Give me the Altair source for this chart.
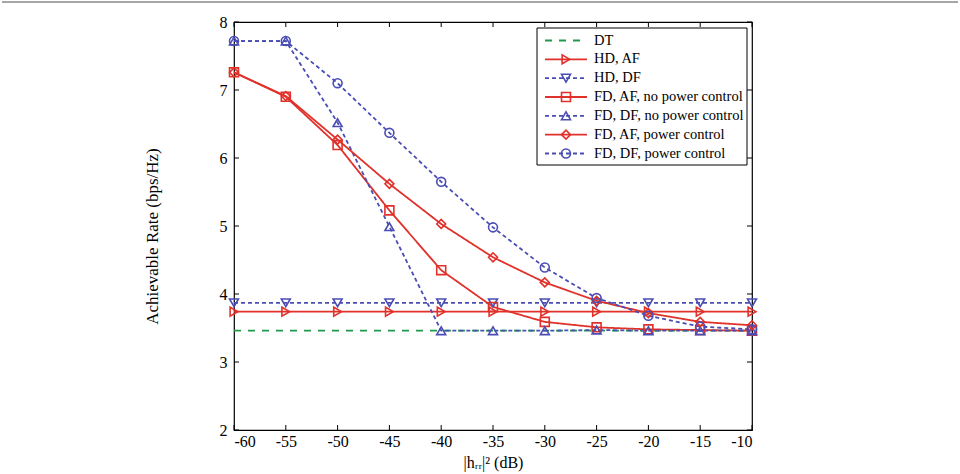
import altair as alt
import pandas as pd

# ---------------- data ----------------
x_db = [-60, -55, -50, -45, -40, -35, -30, -25, -20, -15, -10]

dt = [3.46] * 11
hd_af = [3.74] * 11
hd_df = [3.87] * 11
fd_af_npc = [7.26, 6.90, 6.19, 5.23, 4.35, 3.81, 3.59, 3.51, 3.48, 3.47, 3.46]
fd_df_npc = [7.72, 7.72, 6.52, 4.99, 3.46, 3.46, 3.46, 3.47, 3.46, 3.46, 3.46]
fd_af_pc = [7.26, 6.91, 6.27, 5.62, 5.03, 4.54, 4.17, 3.90, 3.72, 3.59, 3.54]
fd_df_pc = [7.72, 7.72, 7.10, 6.37, 5.65, 4.98, 4.39, 3.94, 3.68, 3.52, 3.48]

names = ["DT", "HD, AF", "HD, DF", "FD, AF, no power control",
         "FD, DF, no power control", "FD, AF, power control", "FD, DF, power control"]
series = [dt, hd_af, hd_df, fd_af_npc, fd_df_npc, fd_af_pc, fd_df_pc]

colors = ["#1e9a4a", "#e0312a", "#4a4db3", "#e0312a", "#4a4db3", "#e0312a", "#4a4db3"]
dashes = [[7, 7], [1, 0], [4, 3], [1, 0], [4, 3], [1, 0], [4, 3]]
marker_names = names[1:]
shapes = ["triangle-right", "triangle-down", "square", "triangle-up", "diamond", "circle"]

x_ticks = x_db
y_ticks = [2, 3, 4, 5, 6, 7, 8]

rows = []
for k, (n, vals) in enumerate(zip(names, series)):
    for xv, yv in zip(x_db, vals):
        rows.append({"x": xv, "y": yv, "series": n, "order": k})
df = pd.DataFrame(rows)
leg = pd.DataFrame({"series": names, "i": list(range(len(names)))})
xt = pd.DataFrame({"x": x_ticks})
yt = pd.DataFrame({"t": y_ticks})

# ---------------- layout ----------------
W, H = 518, 408
FONT = "Liberation Serif"
xs = alt.Scale(domain=[-60, -10], nice=False, zero=False)
ys = alt.Scale(domain=[2, 8], nice=False, zero=False)

xaxis = alt.Axis(values=x_ticks, ticks=False, grid=False, domain=False,
                 labelExpr="datum.value + ''", labelFont=FONT, labelFontSize=16,
                 labelColor="black", labelPadding=3,
                 title="|hᵣᵣ|² (dB)", titleFont=FONT, titleFontSize=16,
                 titleFontWeight="normal", titleColor="black", titlePadding=5)
yaxis = alt.Axis(values=y_ticks, ticks=False, grid=False, domain=False,
                 labelFont=FONT, labelFontSize=16, labelColor="black", labelPadding=7,
                 title="Achievable Rate (bps/Hz)", titleFont=FONT, titleFontSize=17,
                 titleFontWeight="normal", titleColor="black", titlePadding=58,
                 titleY=214)

X = alt.X("x:Q", scale=xs, axis=xaxis)

color = alt.Color("series:N", scale=alt.Scale(domain=names, range=colors), legend=None)
dash = alt.StrokeDash("series:N", scale=alt.Scale(domain=names, range=dashes), legend=None)
shape = alt.Shape("series:N", scale=alt.Scale(domain=marker_names, range=shapes), legend=None)

lines = alt.Chart(df).mark_line(strokeWidth=1.8).encode(
    x=X,
    y=alt.Y("y:Q", scale=ys, axis=yaxis),
    color=color,
    strokeDash=dash,
    detail="series:N",
    order="order:Q",
)

points = alt.Chart(df).transform_filter(alt.datum.series != "DT").mark_point(
    filled=False, size=80, strokeWidth=1.6, opacity=1
).encode(
    x=X,
    y=alt.Y("y:Q", scale=ys, axis=None),
    color=color,
    shape=shape,
)

# inward ticks on all four sides
xt_bottom = alt.Chart(xt).mark_rule(color="black", strokeWidth=1).encode(
    x=X, y=alt.value(H), y2=alt.value(H - 5))
xt_top = alt.Chart(xt).mark_rule(color="black", strokeWidth=1).encode(
    x=X, y=alt.value(0), y2=alt.value(5))
yt_left = alt.Chart(yt).mark_rule(color="black", strokeWidth=1).encode(
    y=alt.Y("t:Q", scale=ys, axis=None), x=alt.value(0), x2=alt.value(5))
yt_right = alt.Chart(yt).mark_rule(color="black", strokeWidth=1).encode(
    y=alt.Y("t:Q", scale=ys, axis=None), x=alt.value(W), x2=alt.value(W - 5))

# legend (manual, inside top right)
one = pd.DataFrame({"a": [0]})
leg_box = alt.Chart(one).mark_rect(fill="white", stroke="black", strokeWidth=1).encode(
    x=alt.value(303), x2=alt.value(513), y=alt.value(6), y2=alt.value(143))
ly = alt.Y("i:Q", scale=alt.Scale(domain=[0, 6], range=[18.5, 131.5]), axis=None)
leg_lines = alt.Chart(leg).mark_rule(strokeWidth=1.8).encode(
    x=alt.value(311), x2=alt.value(353), y=ly, color=color, strokeDash=dash)
leg_pts = alt.Chart(leg).transform_filter(alt.datum.series != "DT").mark_point(
    filled=False, size=80, strokeWidth=1.6, opacity=1).encode(
    x=alt.value(332), y=ly, color=color, shape=shape)
leg_text = alt.Chart(leg).mark_text(align="left", baseline="middle", font=FONT,
                                    fontSize=14.5, color="black").encode(
    x=alt.value(360), y=ly, text="series:N")

# figure frame top line
frame = alt.Chart(one).mark_rule(color="#888888", strokeWidth=1.5).encode(
    x=alt.value(-232), x2=alt.value(724), y=alt.value(-20))

chart = alt.layer(
    lines, points, xt_bottom, xt_top, yt_left, yt_right,
    leg_box, leg_lines, leg_pts, leg_text, frame
).resolve_scale(y="independent").properties(
    width=W, height=H,
    autosize=alt.AutoSizeParams(type="none"),
    padding={"left": 234, "top": 22, "right": 208, "bottom": 44},
    background="white",
).configure_view(stroke="black", strokeWidth=1.2)

chart.save("out.html", embed_options={"renderer": "svg", "actions": False})
